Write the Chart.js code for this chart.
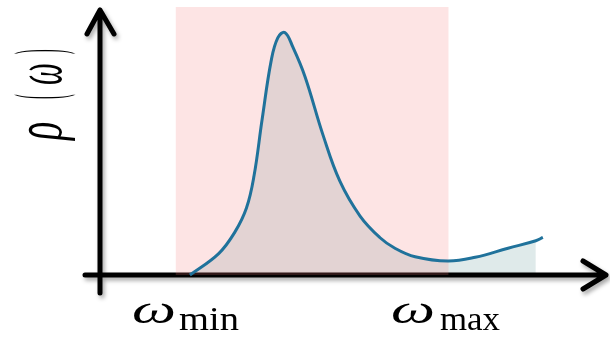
<!DOCTYPE html>
<html>
<head>
<meta charset="utf-8">
<script src="https://cdn.jsdelivr.net/npm/chart.js@4.4.1/dist/chart.umd.min.js"></script>
<style>
  body { margin: 0; background: #fff; }
  #wrap { width: 610px; height: 337px; position: relative; }
  #wrap canvas { position: absolute; left: 0; top: 0; }
  .lbl { position: absolute; white-space: nowrap; line-height: 1; color: #000;
         font-family: 'Liberation Serif', 'DejaVu Serif', serif; }
  #ylab { position: absolute; left: 62px; top: 140px; width: 0; height: 0;
          transform: rotate(-90deg); transform-origin: 0 0; }
</style>
</head>
<body>
<div id="wrap"><canvas id="spectrum"></canvas><div id="ylab"></div></div>
<script>
// omega axis runs 0..10, rho axis 0..1
const omega = [1.78, 2.35, 2.67, 2.9, 3.05, 3.21, 3.39, 3.52, 3.66, 3.82, 4.06, 4.42, 4.75, 5.15, 5.54, 5.84, 6.24, 6.89, 7.43, 8.08, 8.63, 8.77];
const rho = [0, 0.08, 0.16, 0.25, 0.37, 0.58, 0.80, 0.885, 0.905, 0.85, 0.74, 0.52, 0.35, 0.22, 0.14, 0.10, 0.068, 0.052, 0.066, 0.10, 0.128, 0.14];
const omegaMin = 1.5;
const omegaMax = 6.9;
const fillEnd = 8.63;

const linePts = omega.map((x, i) => ({ x: x, y: rho[i] }));
const fillPts = linePts.filter(p => p.x <= fillEnd);

const decor = {
  id: "decor",
  afterDatasetDraw(chart, args) {
    if (args.index !== 1) return;
    const ctx = chart.ctx;
    const xs = chart.scales.x, ys = chart.scales.y;
    const a = chart.chartArea;
    const y0 = ys.getPixelForValue(0);
    const x0 = a.left;

    // axes with soft shadow
    ctx.save();
    ctx.strokeStyle = "#000";
    ctx.lineWidth = 5;
    ctx.lineCap = "round";
    ctx.lineJoin = "round";
    ctx.shadowColor = "rgba(0,0,0,0.35)";
    ctx.shadowBlur = 4;
    ctx.shadowOffsetX = 2;
    ctx.shadowOffsetY = 3;
    ctx.beginPath();
    ctx.moveTo(a.left - 15, y0);
    ctx.lineTo(a.right + 1, y0);
    ctx.moveTo(a.right - 22, y0 - 14);
    ctx.lineTo(a.right + 1, y0);
    ctx.lineTo(a.right - 22, y0 + 14);
    ctx.moveTo(x0, y0 + 18);
    ctx.lineTo(x0, a.top + 3);
    ctx.moveTo(x0 - 13, a.top + 27);
    ctx.lineTo(x0, a.top + 3);
    ctx.lineTo(x0 + 14, a.top + 27);
    ctx.stroke();
    ctx.restore();

    // window between omega_min and omega_max
    const l = xs.getPixelForValue(omegaMin);
    const r = xs.getPixelForValue(omegaMax);
    const t = ys.getPixelForValue(1);
    ctx.save();
    ctx.fillStyle = "rgba(245,120,120,0.2)";
    ctx.fillRect(l, t, r - l, y0 - t);
    ctx.restore();
  }
};

new Chart(document.getElementById("spectrum"), {
  type: "line",
  data: {
    datasets: [{
      label: "rho",
      data: linePts,
      borderColor: "#20729b",
      borderWidth: 3,
      pointRadius: 0,
      fill: false,
      tension: 0.4,
      clip: false
    }, {
      label: "area",
      data: fillPts,
      borderWidth: 0,
      borderColor: "rgba(0,0,0,0)",
      backgroundColor: "#dfeaea",
      pointRadius: 0,
      fill: "origin",
      tension: 0.4
    }]
  },
  options: {
    responsive: true,
    maintainAspectRatio: false,
    animation: false,
    layout: { padding: { left: 100, right: 5, top: 7, bottom: 62 } },
    scales: {
      x: { type: "linear", min: 0, max: 10, display: false },
      y: { min: 0, max: 1, display: false }
    },
    plugins: { legend: { display: false }, tooltip: { enabled: false } }
  },
  plugins: [decor]
});

// text labels as html, fitted into [x0, x1] along the baseline, sy stretches across
function label(parent, text, italic, size, x0, x1, base, sy) {
  const s = document.createElement("span");
  s.className = "lbl";
  s.textContent = text;
  s.style.fontSize = size + "px";
  s.style.fontStyle = italic ? "italic" : "normal";
  s.style.left = x0 + "px";
  s.style.top = (base - 0.8375 * size) + "px";
  s.style.transformOrigin = "0 " + (0.8375 * size) + "px";
  parent.appendChild(s);
  const w = s.getBoundingClientRect().width;
  s.style.transform = "scale(" + ((x1 - x0) / w) + "," + (sy || 1) + ")";
}

const wrap = document.getElementById("wrap");
label(wrap, "ω", true, 40, 132, 176, 323);
label(wrap, "min", false, 34, 179, 239, 330);
label(wrap, "ω", true, 40, 391, 435, 323);
label(wrap, "max", false, 34, 440, 500, 330);

const ylab = document.getElementById("ylab");
label(ylab, "ρ", true, 52, 0, 38, 0, 1.3);
label(ylab, "(", false, 52, 41, 55, 0, 1.3);
label(ylab, "ω", true, 52, 55, 86, 0, 1.3);
label(ylab, ")", false, 52, 86, 100, 0, 1.3);
</script>
</body>
</html>
